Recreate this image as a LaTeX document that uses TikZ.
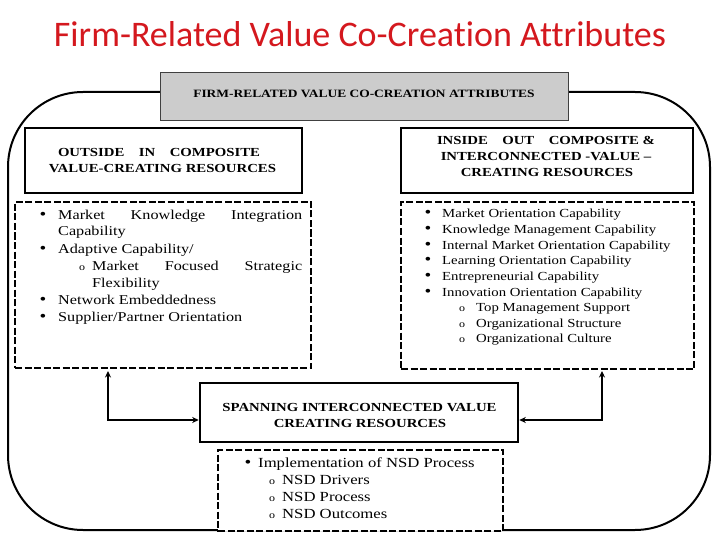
\documentclass[tikz,border=0pt]{standalone}
\usepackage{fontspec}
\setmainfont[FakeStretch=1.2]{Liberation Serif}
\newfontfamily\titlefont[Ligatures=NoCommon]{Carlito}
\usetikzlibrary{arrows.meta}
\definecolor{titlered}{RGB}{212,24,30}
\definecolor{boxgray}{RGB}{204,204,204}
\newcommand{\bul}{{\fontsize{16}{16}\selectfont\textbullet}}
\begin{document}
\begin{tikzpicture}[x=1pt,y=-1pt,
  txt/.style={inner sep=0pt, anchor=base},
  txtl/.style={inner sep=0pt, anchor=base west},
  hdr/.style={draw, line width=2.6pt, fill=white, inner sep=0pt},
  dbox/.style={draw, line width=2.2pt, dash pattern=on 7pt off 2.5pt, fill=white, inner sep=0pt},
  hfont/.style={font=\bfseries\fontsize{12.3}{14}\selectfont},
  arr/.style={line width=2.4pt, {Stealth[length=6.5pt,width=6pt]}-{Stealth[length=6.5pt,width=6pt]}},
  subo/.style={inner sep=0pt, anchor=base, font=\fontsize{10}{10}\selectfont},
]
\useasboundingbox (0,0) rectangle (720,540);
% title
\node[txt, font=\titlefont\fontsize{36}{40}\selectfont, text=titlered] (title) at (360,47) {Firm-Related Value Co-Creation Attributes};
% outer frame
\node[draw, line width=2pt, rounded corners=75pt, minimum width=702pt, minimum height=438pt, inner sep=0pt] (frame) at (359,311) {};
% gray title box
\node[draw=black!75, line width=0.9pt, fill=boxgray, minimum width=408pt, minimum height=48pt, inner sep=0pt] (tbox) at (364,96) {};
\node[txt, font=\bfseries\fontsize{11.2}{13}\selectfont] (tboxt) at (364,98) {FIRM-RELATED VALUE CO-CREATION ATTRIBUTES};
% header boxes
\node[hdr, minimum width=277pt, minimum height=65pt] (lh) at (163.5,160.5) {};
\node[txt, hfont] (lh1) at (159,157) {\makebox[202pt][s]{OUTSIDE\hfill IN\hfill COMPOSITE}};
\node[txt, hfont] (lh2) at (162.5,173) {VALUE-CREATING RESOURCES};
\node[hdr, minimum width=292pt, minimum height=65pt] (rh) at (547,160.5) {};
\node[txt, hfont] (rh1) at (546,145) {\makebox[218pt][s]{INSIDE\hfill OUT\hfill COMPOSITE~\&}};
\node[txt, hfont] (rh2) at (546,161) {INTERCONNECTED -VALUE --};
\node[txt, hfont] (rh3) at (547,177) {CREATING RESOURCES};
% dashed list boxes
\node[dbox, minimum width=296pt, minimum height=166pt] (ld) at (163,285) {};
\node[dbox, minimum width=293pt, minimum height=167pt] (rd) at (547.5,285.5) {};
% left list
\begin{scope}[font=\fontsize{13.5}{16}\selectfont]
\node[txt] (lb1) at (43,219) {\bul};
\node[txtl] (l1) at (58,219) {\makebox[244pt][s]{Market\hfill Knowledge\hfill Integration}};
\node[txtl] (l2) at (58,236) {Capability};
\node[txt] (lb2) at (43,253) {\bul};
\node[txtl] (l3) at (58,253) {Adaptive Capability/};
\node[subo] (lo1) at (82,270) {o};
\node[txtl] (l4) at (92,270) {\makebox[210pt][s]{Market\hfill Focused\hfill Strategic}};
\node[txtl] (l5) at (92,287) {Flexibility};
\node[txt] (lb3) at (43,304.5) {\bul};
\node[txtl] (l6) at (58,304.5) {Network Embeddedness};
\node[txt] (lb4) at (43,321.5) {\bul};
\node[txtl] (l7) at (58,321.5) {Supplier/Partner Orientation};
\end{scope}
% right list
\begin{scope}[font=\fontsize{12.3}{15}\selectfont]
\node[txt] (rb1) at (428,218) {\bul};
\node[txtl] (r1) at (442,218) {Market Orientation Capability};
\node[txt] (rb2) at (428,233.6) {\bul};
\node[txtl] (r2) at (442,233.6) {Knowledge Management Capability};
\node[txt] (rb3) at (428,249.2) {\bul};
\node[txtl] (r3) at (442,249.2) {Internal Market Orientation Capability};
\node[txt] (rb4) at (428,264.8) {\bul};
\node[txtl] (r4) at (442,264.8) {Learning Orientation Capability};
\node[txt] (rb5) at (428,280.4) {\bul};
\node[txtl] (r5) at (442,280.4) {Entrepreneurial Capability};
\node[txt] (rb6) at (428,296) {\bul};
\node[txtl] (r6) at (442,296) {Innovation Orientation Capability};
\node[subo] (ro1) at (462,311.6) {o};
\node[txtl] (r7) at (476,311.6) {Top Management Support};
\node[subo] (ro2) at (462,327.2) {o};
\node[txtl] (r8) at (476,327.2) {Organizational Structure};
\node[subo] (ro3) at (462,342.8) {o};
\node[txtl] (r9) at (476,342.8) {Organizational Culture};
\end{scope}
% spanning box
\node[hdr, minimum width=318pt, minimum height=59pt] (span) at (359,412.5) {};
\node[txt, hfont] (sp1) at (359.5,411) {SPANNING INTERCONNECTED VALUE};
\node[txt, hfont] (sp2) at (360,427) {CREATING RESOURCES};
% NSD box
\node[dbox, line width=1.9pt, minimum width=285pt, minimum height=81pt] (nsd) at (360.5,490.5) {};
\begin{scope}[font=\fontsize{13.9}{16}\selectfont]
\node[txt] (nb1) at (248,467) {\bul};
\node[txtl] (n1) at (258,467) {Implementation of NSD Process};
\node[subo] (no1) at (272,484) {o};
\node[txtl] (n2) at (282,484) {NSD Drivers};
\node[subo] (no2) at (272,501) {o};
\node[txtl] (n3) at (282,501) {NSD Process};
\node[subo] (no3) at (272,518.5) {o};
\node[txtl] (n4) at (282,518.5) {NSD Outcomes};
\end{scope}
% arrows
\coordinate (la) at (108,371);
\coordinate (ra) at (602,371);
\draw[arr] (la) |- ([yshift=-7.5pt]span.west);
\draw[arr] (ra) |- ([yshift=-7.5pt]span.east);
\end{tikzpicture}
\end{document}
